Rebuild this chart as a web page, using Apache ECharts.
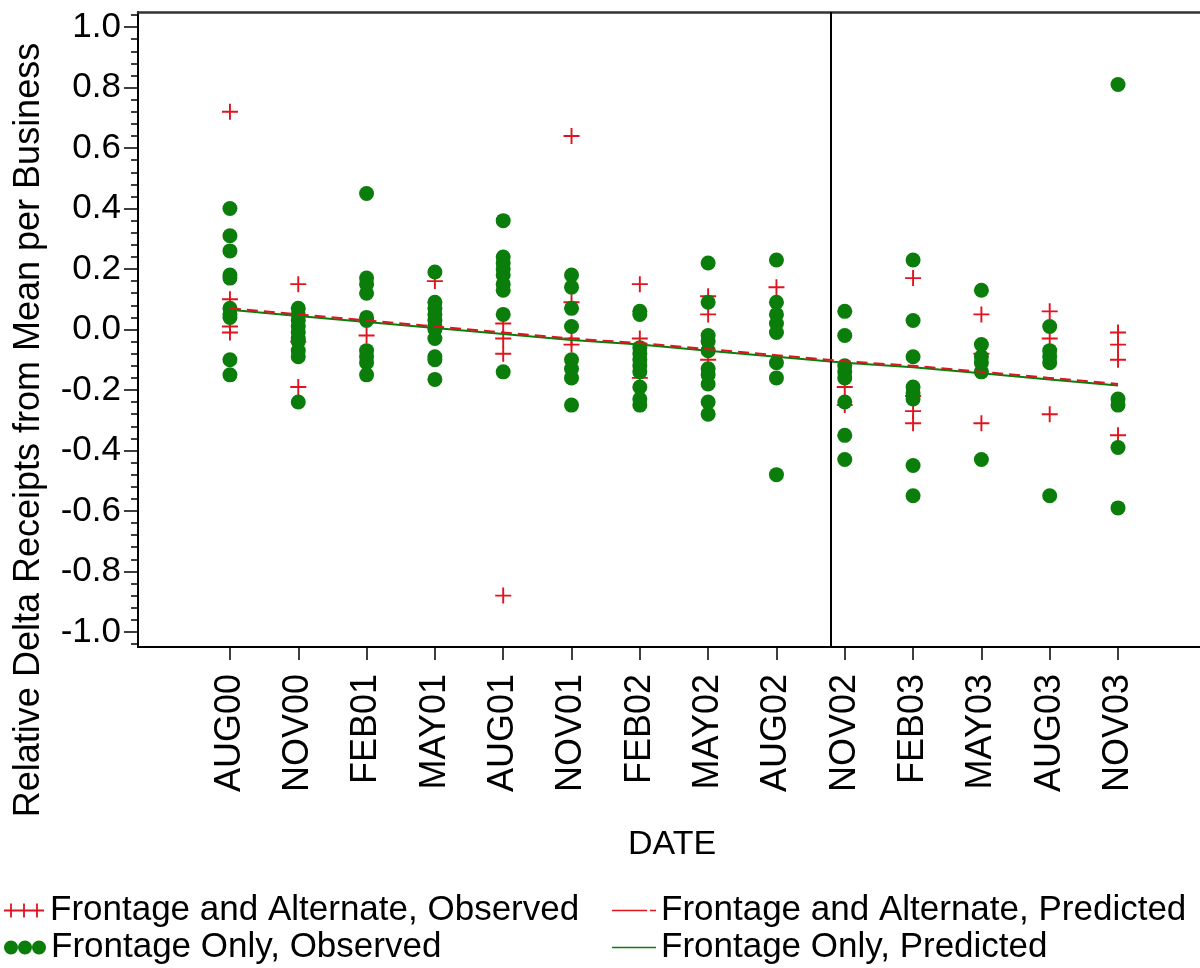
<!DOCTYPE html>
<html><head><meta charset="utf-8">
<script src="https://cdn.jsdelivr.net/npm/echarts@6/dist/echarts.min.js"></script>
<style>html,body{margin:0;padding:0;background:#fff}#chart{width:1200px;height:968px}</style>
</head><body><div id="chart"></div>
<script>
// ---- data ----
const categories = ['AUG00','NOV00','FEB01','MAY01','AUG01','NOV01','FEB02','MAY02','AUG02','NOV02','FEB03','MAY03','AUG03','NOV03'];
// Frontage and Alternate, Observed (per category)
const altObserved = [
  [0.72, 0.10, 0.01, -0.01],
  [0.15, -0.04, -0.19],
  [-0.02],
  [0.16],
  [0.02, -0.03, -0.08, -0.88],
  [0.64, 0.09, -0.03, -0.05],
  [0.15, -0.03, -0.16],
  [0.11, 0.05, -0.10],
  [0.14],
  [-0.19, -0.25],
  [0.17, -0.22, -0.27, -0.31],
  [0.05, -0.08, -0.31],
  [0.06, -0.03, -0.28],
  [-0.01, -0.05, -0.10, -0.35]
];
// Frontage Only, Observed (per category)
const onlyObserved = [
  [0.40, 0.31, 0.26, 0.18, 0.17, 0.07, 0.05, 0.04, -0.10, -0.15],
  [0.07, 0.05, 0.03, 0.01, -0.01, -0.03, -0.04, -0.07, -0.09, -0.24],
  [0.45, 0.17, 0.15, 0.12, 0.04, 0.03, -0.07, -0.09, -0.11, -0.15],
  [0.19, 0.09, 0.07, 0.05, 0.03, 0.01, 0.00, -0.03, -0.09, -0.10, -0.165],
  [0.36, 0.24, 0.22, 0.20, 0.18, 0.15, 0.13, 0.05, -0.14],
  [0.18, 0.14, 0.07, 0.01, -0.10, -0.13, -0.16, -0.25],
  [0.06, 0.05, -0.06, -0.08, -0.10, -0.12, -0.14, -0.19, -0.23, -0.25],
  [0.22, 0.09, -0.02, -0.04, -0.07, -0.13, -0.15, -0.18, -0.24, -0.28],
  [0.23, 0.09, 0.05, 0.02, -0.01, -0.11, -0.16, -0.48],
  [0.06, -0.02, -0.12, -0.14, -0.16, -0.24, -0.35, -0.43],
  [0.23, 0.03, -0.09, -0.19, -0.21, -0.23, -0.45, -0.55],
  [0.13, -0.05, -0.09, -0.11, -0.14, -0.43],
  [0.01, -0.07, -0.09, -0.11, -0.55],
  [0.81, -0.23, -0.25, -0.39, -0.59]
];
const altPredicted  = [0.070, 0.050, 0.030, 0.010, -0.010, -0.030, -0.045, -0.065, -0.085, -0.105, -0.120, -0.140, -0.160, -0.180];
const onlyPredicted = [0.065, 0.045, 0.025, 0.005, -0.015, -0.035, -0.050, -0.070, -0.090, -0.110, -0.125, -0.145, -0.165, -0.185];
const dividerPosition = 8.79; // between AUG02 and NOV02
const yTickLabels = [-1.0, -0.8, -0.6, -0.4, -0.2, 0.0, 0.2, 0.4, 0.6, 0.8, 1.0];
const seriesNames = ['Frontage and Alternate, Observed', 'Frontage Only, Observed',
                     'Frontage and Alternate, Predicted', 'Frontage Only, Predicted'];

// ---- build ----
const FONT = "'Liberation Sans', Arial, sans-serif";
const RED = '#e0141f';
const GREEN = '#0a7d0a';
const catIdx = categories.map((c, i) => i);
const toPoints = arr => arr.flatMap((vals, i) => vals.map(v => [i, v]));
const minorTicks = [];
for (let k = -26; k <= 26; k++) minorTicks.push(Math.round(k * 4) / 100);

const PLUS = 'path://M-1,-0.12H1V0.12H-1Z M-0.12,-1H0.12V1H-0.12Z';
const speck = 'M0,0h0.01v0.01h-0.01Z M0,13.99h0.01v0.01h-0.01Z ';
const ICON_PLUS3 = 'path://M0,6.1H40V7.9H0Z M6.1,0H7.9V14H6.1Z M19.1,0H20.9V14H19.1Z M32.1,0H33.9V14H32.1Z';
const ICON_DOT3 = 'path://M0,7a7,7 0 1,0 14,0a7,7 0 1,0 -14,0Z M14,7a7,7 0 1,0 14,0a7,7 0 1,0 -14,0Z M28,7a7,7 0 1,0 14,0a7,7 0 1,0 -14,0Z';
const ICON_REDLINE = 'path://' + speck + 'M0,6.2H35V7.8H0Z M38,6.2H44V7.8H38Z';
const ICON_GREENLINE = 'path://' + speck + 'M0,6.2H44V7.8H0Z';

function legendItem(left, top, name, icon, color, w) {
  return {
    left: left, top: top, orient: 'horizontal', itemGap: 0, itemWidth: w, itemHeight: 14,
    padding: 0, selectedMode: false,
    textStyle: {color: '#000', fontSize: 35, fontFamily: FONT},
    data: [{name: name, icon: icon, itemStyle: {color: color}}]
  };
}

const chart = echarts.init(document.getElementById('chart'), null, {renderer: 'canvas'});
const xMin = -1.346, xMax = 14.2;
chart.setOption({
  animation: false,
  backgroundColor: '#fff',
  grid: {left: 138, right: 0, top: 12, bottom: 968 - 647, containLabel: false},
  xAxis: [{
    type: 'value', position: 'bottom', min: xMin, max: xMax,
    splitLine: {show: false},
    axisLine: {show: true, onZero: false, lineStyle: {color: '#000', width: 2}},
    axisTick: {show: true, customValues: catIdx, length: 13, lineStyle: {color: '#000', width: 1.5}},
    axisLabel: {show: true, customValues: catIdx, rotate: 90, margin: 27,
      formatter: v => categories[Math.round(v)] || '',
      color: '#000', fontSize: 36, fontFamily: FONT}
  }, {
    type: 'value', position: 'top', min: xMin, max: xMax,
    splitLine: {show: false},
    axisLine: {show: true, onZero: false, lineStyle: {color: '#333', width: 2.5}},
    axisTick: {show: false}, axisLabel: {show: false}
  }],
  yAxis: [{
    type: 'value', position: 'left', min: -1.05, max: 1.05,
    splitLine: {show: false},
    axisLine: {show: true, onZero: false, lineStyle: {color: '#000', width: 2}},
    axisTick: {show: true, customValues: minorTicks, length: 7, lineStyle: {color: '#000', width: 1.5}},
    axisLabel: {show: true, customValues: yTickLabels, margin: 17,
      formatter: v => v.toFixed(1), color: '#000', fontSize: 35, fontFamily: FONT}
  }, {
    type: 'value', position: 'left', offset: 0, min: -1.05, max: 1.05,
    splitLine: {show: false},
    axisLine: {show: false, onZero: false},
    axisTick: {show: true, customValues: yTickLabels, length: 14, lineStyle: {color: '#000', width: 1.5}},
    axisLabel: {show: false}
  }],
  legend: [
    legendItem(4, 893, seriesNames[0], ICON_PLUS3, RED, 42),
    legendItem(4, 930, seriesNames[1], ICON_DOT3, GREEN, 42),
    legendItem(612, 893, seriesNames[2], ICON_REDLINE, RED, 44),
    legendItem(612, 930, seriesNames[3], ICON_GREENLINE, GREEN, 44)
  ],
  graphic: [{
    type: 'text', x: 29, y: 430, rotation: Math.PI / 2,
    style: {text: 'Relative Delta Receipts from Mean per Business', font: '36px ' + FONT,
            fill: '#000', align: 'center', verticalAlign: 'middle'}
  }, {
    type: 'text', x: 672, y: 845,
    style: {text: 'DATE', font: '34px ' + FONT, fill: '#000', align: 'center', verticalAlign: 'middle'}
  }],
  series: [{
    name: seriesNames[0], type: 'scatter', data: toPoints(altObserved),
    symbol: PLUS, symbolSize: 16, itemStyle: {color: RED, opacity: 1},
    emphasis: {disabled: true}, z: 2
  }, {
    name: seriesNames[1], type: 'scatter', data: toPoints(onlyObserved),
    symbol: 'circle', symbolSize: 15, itemStyle: {color: GREEN, opacity: 1},
    emphasis: {disabled: true}, z: 3
  }, {
    name: seriesNames[3], type: 'line', data: onlyPredicted.map((v, i) => [i, v]),
    symbol: 'none', lineStyle: {color: GREEN, width: 2}, itemStyle: {color: GREEN},
    emphasis: {disabled: true}, z: 4,
    markLine: {silent: true, symbol: 'none', label: {show: false},
      lineStyle: {color: '#000', width: 2, type: 'solid'},
      emphasis: {disabled: true},
      data: [{xAxis: dividerPosition}]}
  }, {
    name: seriesNames[2], type: 'line', data: altPredicted.map((v, i) => [i, v]),
    symbol: 'none', lineStyle: {color: RED, width: 2, type: [11, 6]}, itemStyle: {color: RED},
    emphasis: {disabled: true}, z: 5
  }]
});
</script></body></html>
